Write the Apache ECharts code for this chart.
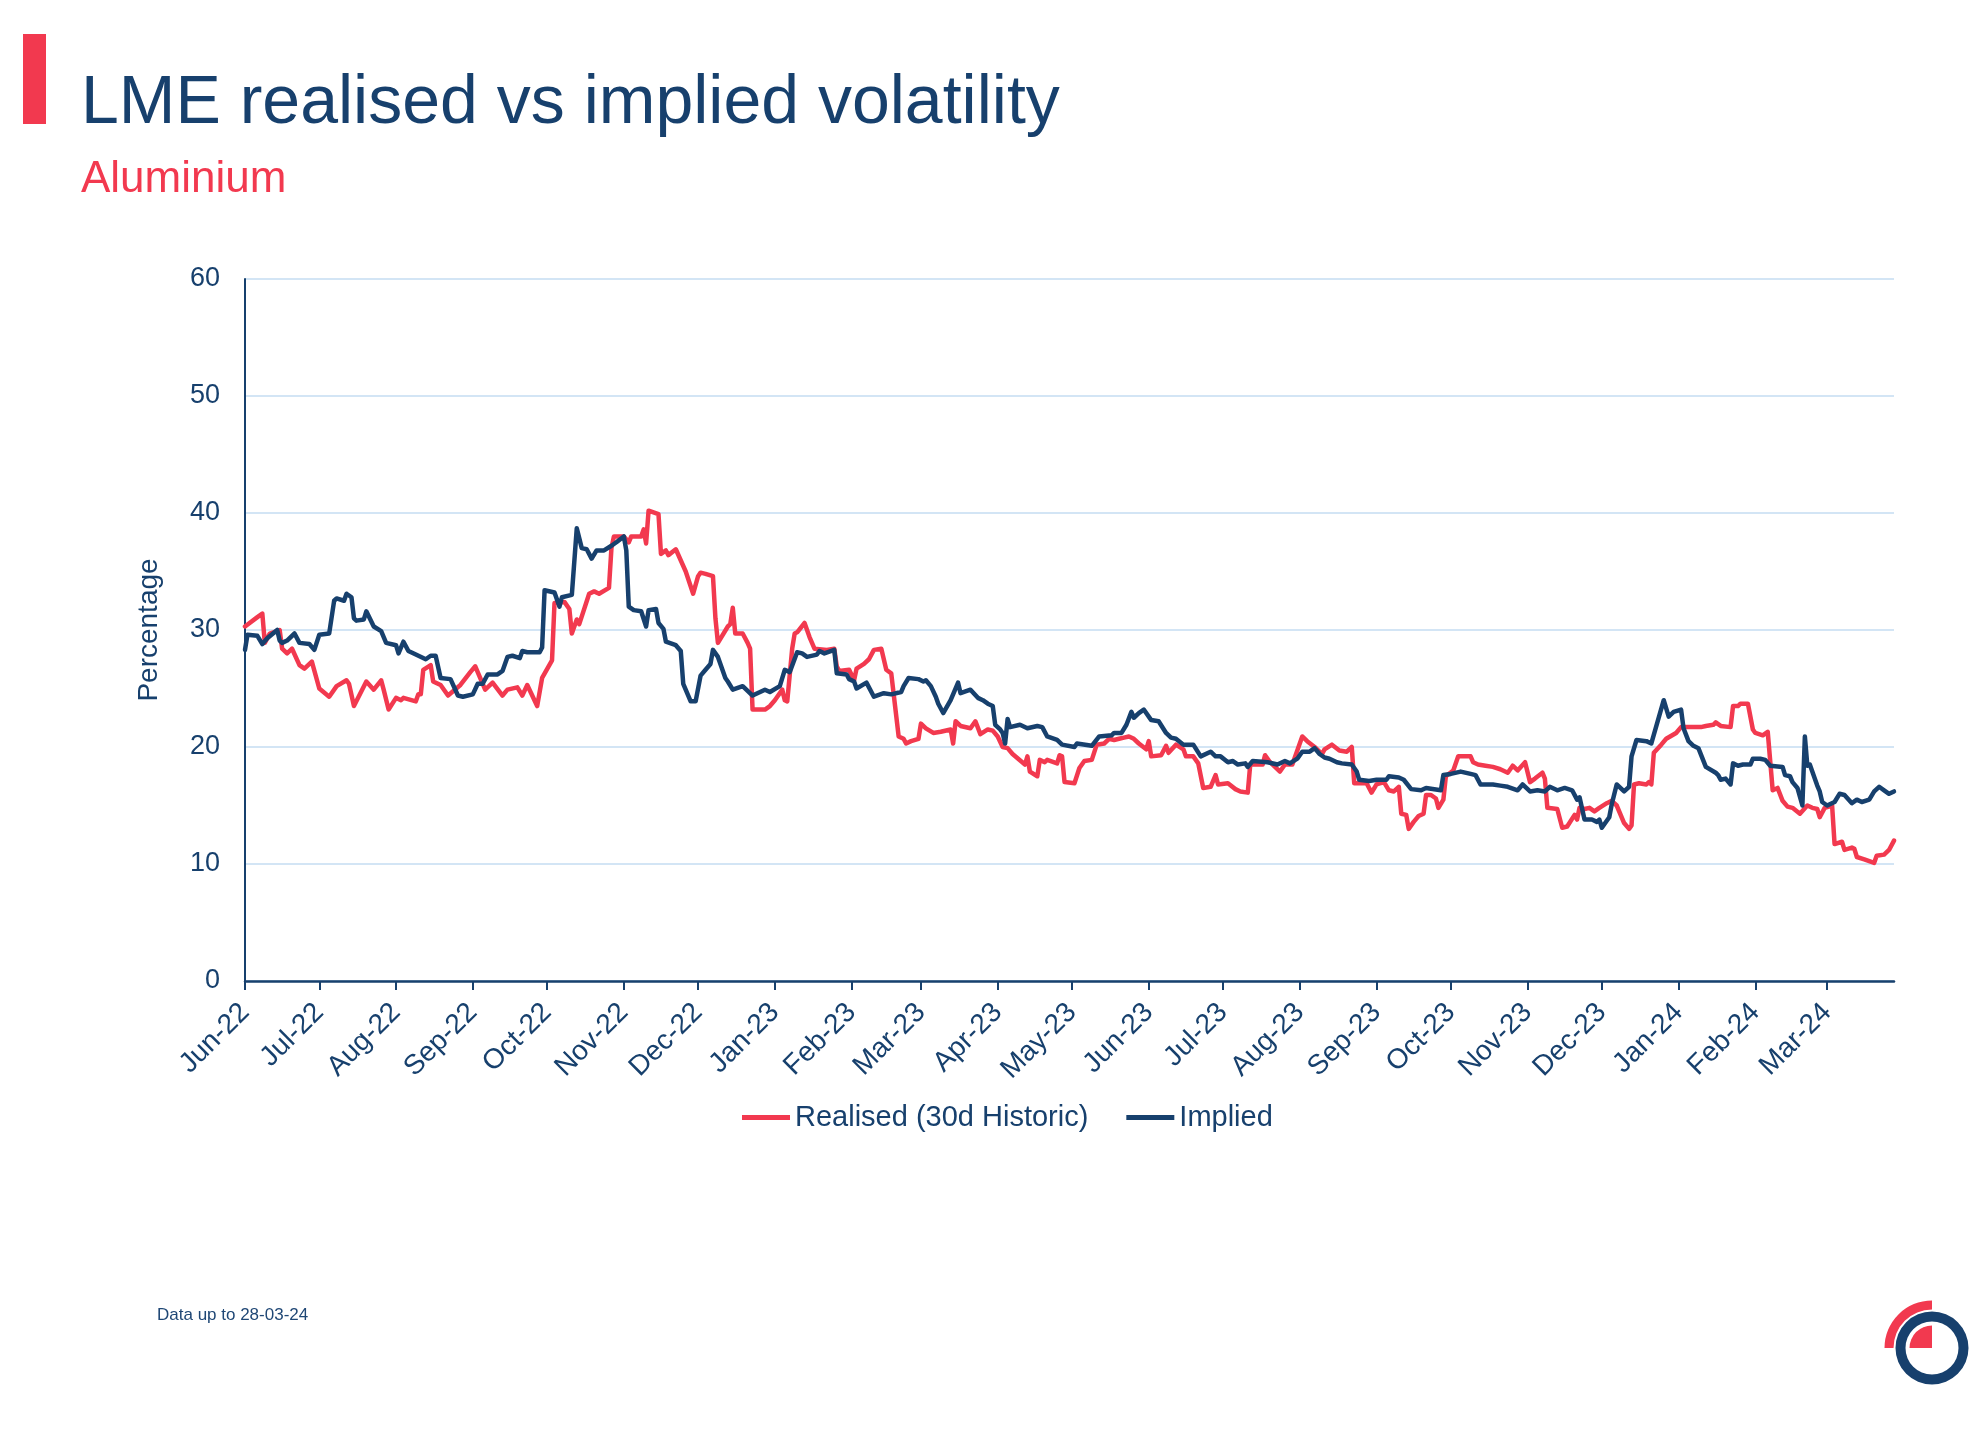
<!DOCTYPE html>
<html>
<head>
<meta charset="utf-8">
<script src="https://cdn.jsdelivr.net/npm/echarts@6/dist/echarts.min.js"></script>
<style>
html,body{margin:0;padding:0;background:#ffffff;}
#chart{width:1979px;height:1436px;}
</style>
</head>
<body>
<div id="chart"></div>
<script>
// ---------- data ----------
const realisedDates = [
 '2022-06-01','2022-06-06','2022-06-08','2022-06-09','2022-06-11','2022-06-15','2022-06-16','2022-06-18','2022-06-20','2022-06-23','2022-06-25','2022-06-28',
 '2022-07-01','2022-07-05','2022-07-08','2022-07-12','2022-07-13','2022-07-15','2022-07-20','2022-07-23','2022-07-26','2022-07-27','2022-07-29',
 '2022-08-01','2022-08-03','2022-08-04','2022-08-09','2022-08-10','2022-08-11','2022-08-12','2022-08-15','2022-08-16','2022-08-19','2022-08-22','2022-08-27','2022-08-31',
 '2022-09-02','2022-09-06','2022-09-09','2022-09-13','2022-09-15','2022-09-19','2022-09-21','2022-09-23','2022-09-27','2022-09-29',
 '2022-10-03','2022-10-04','2022-10-08','2022-10-10','2022-10-11','2022-10-13','2022-10-14','2022-10-18','2022-10-20','2022-10-22','2022-10-26','2022-10-27','2022-10-28',
 '2022-11-01','2022-11-03','2022-11-04','2022-11-08','2022-11-09','2022-11-10','2022-11-11','2022-11-15','2022-11-16','2022-11-18','2022-11-19','2022-11-22','2022-11-26','2022-11-29',
 '2022-12-01','2022-12-02','2022-12-04','2022-12-07','2022-12-08','2022-12-09','2022-12-13','2022-12-14','2022-12-15','2022-12-16','2022-12-19','2022-12-21','2022-12-22','2022-12-23','2022-12-28','2022-12-30',
 '2023-01-01','2023-01-04','2023-01-05','2023-01-06','2023-01-08','2023-01-09','2023-01-10','2023-01-13','2023-01-15','2023-01-17','2023-01-22','2023-01-25','2023-01-26','2023-01-27','2023-01-31',
 '2023-02-02','2023-02-03','2023-02-06','2023-02-08','2023-02-10','2023-02-13','2023-02-15','2023-02-17','2023-02-20','2023-02-22','2023-02-23','2023-02-25','2023-02-28',
 '2023-03-01','2023-03-03','2023-03-06','2023-03-09','2023-03-13','2023-03-14','2023-03-15','2023-03-17','2023-03-21','2023-03-23','2023-03-25','2023-03-28','2023-03-30',
 '2023-04-01','2023-04-03','2023-04-05','2023-04-07','2023-04-12','2023-04-13','2023-04-14','2023-04-17','2023-04-18','2023-04-20','2023-04-21','2023-04-25','2023-04-26','2023-04-27','2023-04-28',
 '2023-05-02','2023-05-04','2023-05-06','2023-05-09','2023-05-11','2023-05-14','2023-05-16','2023-05-18','2023-05-20','2023-05-22','2023-05-24','2023-05-26','2023-05-28','2023-05-31',
 '2023-06-01','2023-06-02','2023-06-06','2023-06-08','2023-06-09','2023-06-12','2023-06-15','2023-06-16','2023-06-19','2023-06-21','2023-06-23','2023-06-26','2023-06-28','2023-06-29',
 '2023-07-03','2023-07-06','2023-07-08','2023-07-11','2023-07-12','2023-07-17','2023-07-18','2023-07-20','2023-07-24','2023-07-26','2023-07-29','2023-07-31',
 '2023-08-02','2023-08-04','2023-08-07','2023-08-10','2023-08-11','2023-08-14','2023-08-17','2023-08-20','2023-08-22','2023-08-23','2023-08-26','2023-08-28','2023-08-30',
 '2023-09-01','2023-09-04','2023-09-06','2023-09-08','2023-09-10','2023-09-11','2023-09-13','2023-09-14','2023-09-16','2023-09-18','2023-09-20','2023-09-21','2023-09-23','2023-09-25','2023-09-26','2023-09-28','2023-09-29',
 '2023-10-02','2023-10-04','2023-10-07','2023-10-09','2023-10-10','2023-10-12','2023-10-15','2023-10-18','2023-10-21','2023-10-24','2023-10-26','2023-10-28','2023-10-31',
 '2023-11-02','2023-11-04','2023-11-07','2023-11-08','2023-11-09','2023-11-13','2023-11-15','2023-11-17','2023-11-20','2023-11-21','2023-11-22','2023-11-24','2023-11-26','2023-11-28','2023-11-30',
 '2023-12-03','2023-12-05','2023-12-07','2023-12-10','2023-12-12','2023-12-13','2023-12-14','2023-12-16','2023-12-19','2023-12-20','2023-12-21','2023-12-22','2023-12-25','2023-12-27','2023-12-31',
 '2024-01-02','2024-01-04','2024-01-08','2024-01-10','2024-01-12','2024-01-15','2024-01-16','2024-01-18','2024-01-22','2024-01-23','2024-01-25','2024-01-26','2024-01-29','2024-01-31',
 '2024-02-01','2024-02-04','2024-02-06','2024-02-08','2024-02-10','2024-02-12','2024-02-14','2024-02-16','2024-02-19','2024-02-22','2024-02-24','2024-02-26','2024-02-27','2024-02-29',
 '2024-03-03','2024-03-04','2024-03-07','2024-03-08','2024-03-11','2024-03-12','2024-03-13','2024-03-16','2024-03-20','2024-03-21','2024-03-24','2024-03-26','2024-03-28'
];
const realisedValues = [
 30.3,31.1,31.4,28.9,29.7,30.0,28.4,28.0,28.4,27.0,26.7,27.3,
 25.0,24.3,25.2,25.7,25.4,23.5,25.6,24.9,25.7,24.9,23.2,
 24.2,24.0,24.2,23.9,24.5,24.5,26.6,27.0,25.6,25.3,24.4,25.3,26.4,
 26.9,24.9,25.5,24.4,24.9,25.1,24.4,25.3,23.5,25.9,
 27.4,32.3,32.4,31.8,29.7,30.9,30.5,33.1,33.3,33.1,33.6,37.0,38.0,
 38.0,37.5,38.0,38.0,38.6,37.4,40.2,39.9,36.5,36.8,36.4,36.9,35.0,33.1,
 34.6,34.9,34.8,34.6,31.0,28.9,30.3,30.5,31.9,29.7,29.7,28.9,28.4,23.2,23.2,23.5,
 24.0,24.9,24.0,23.9,28.4,29.7,29.8,30.6,29.4,28.4,28.3,28.4,26.9,26.5,26.6,
 25.7,26.7,27.1,27.5,28.3,28.4,26.6,26.3,20.9,20.7,20.3,20.5,20.7,
 22.0,21.6,21.2,21.3,21.5,20.3,22.2,21.8,21.6,22.2,21.1,21.5,21.4,
 20.9,20.0,19.9,19.4,18.5,19.2,17.9,17.5,18.9,18.7,18.9,18.6,19.3,19.2,17.0,
 16.9,18.2,18.8,18.9,20.2,20.3,20.7,20.6,20.7,20.8,20.9,20.7,20.3,19.8,
 20.5,19.2,19.3,20.1,19.5,20.2,19.8,19.2,19.2,18.6,16.5,16.6,17.6,16.8,
 16.9,16.4,16.2,16.1,18.5,18.5,19.3,18.7,17.9,18.5,18.5,19.7,
 20.9,20.5,20.0,19.4,19.8,20.2,19.7,19.6,20.0,16.9,16.9,16.9,16.1,
 16.8,17.0,16.3,16.2,16.6,14.3,14.2,13.0,13.6,14.1,14.3,15.9,15.9,15.6,14.8,15.5,17.5,
 18.0,19.2,19.2,19.2,18.7,18.5,18.4,18.3,18.1,17.8,18.4,18.0,18.7,
 17.0,17.3,17.8,17.3,14.8,14.7,13.1,13.2,14.2,13.8,14.8,14.7,14.8,14.5,14.8,
 15.2,15.4,15.0,13.5,13.0,13.3,16.8,16.9,16.8,17.0,16.8,19.5,20.2,20.7,21.2,
 21.7,21.7,21.7,21.7,21.8,21.9,22.1,21.8,21.7,23.5,23.5,23.7,23.7,21.5,
 21.2,21.0,21.3,16.3,16.5,15.4,14.9,14.8,14.3,15.0,14.8,14.7,14.0,14.8,
 15.0,11.7,11.9,11.2,11.4,11.3,10.6,10.4,10.1,10.7,10.8,11.2,12.0
];

const impliedDates = [
 '2022-06-01','2022-06-02','2022-06-06','2022-06-08','2022-06-10','2022-06-14','2022-06-15','2022-06-16','2022-06-18','2022-06-21','2022-06-23','2022-06-27','2022-06-29',
 '2022-07-01','2022-07-05','2022-07-07','2022-07-08','2022-07-11','2022-07-12','2022-07-14','2022-07-15','2022-07-16','2022-07-19','2022-07-20','2022-07-23','2022-07-26','2022-07-28',
 '2022-08-01','2022-08-02','2022-08-04','2022-08-06','2022-08-09','2022-08-13','2022-08-15','2022-08-17','2022-08-19','2022-08-23','2022-08-26','2022-08-28',
 '2022-09-01','2022-09-03','2022-09-05','2022-09-07','2022-09-11','2022-09-13','2022-09-15','2022-09-17','2022-09-20','2022-09-21','2022-09-23','2022-09-28','2022-09-29','2022-09-30',
 '2022-10-04','2022-10-06','2022-10-07','2022-10-11','2022-10-13','2022-10-15','2022-10-17','2022-10-19','2022-10-21','2022-10-24','2022-10-27','2022-10-29',
 '2022-11-01','2022-11-02','2022-11-03','2022-11-05','2022-11-08','2022-11-10','2022-11-11','2022-11-14','2022-11-15','2022-11-17','2022-11-18','2022-11-22','2022-11-24','2022-11-25','2022-11-28','2022-11-30',
 '2022-12-02','2022-12-04','2022-12-06','2022-12-07','2022-12-09','2022-12-12','2022-12-13','2022-12-15','2022-12-19','2022-12-23','2022-12-28','2022-12-30',
 '2023-01-03','2023-01-05','2023-01-07','2023-01-10','2023-01-12','2023-01-14','2023-01-18','2023-01-19','2023-01-21','2023-01-25','2023-01-26','2023-01-30','2023-01-31',
 '2023-02-02','2023-02-03','2023-02-07','2023-02-10','2023-02-14','2023-02-17','2023-02-21','2023-02-22','2023-02-24','2023-02-28',
 '2023-03-02','2023-03-03','2023-03-05','2023-03-07','2023-03-08','2023-03-10','2023-03-13','2023-03-16','2023-03-17','2023-03-21','2023-03-24','2023-03-26','2023-03-28','2023-03-30','2023-03-31',
 '2023-04-02','2023-04-03','2023-04-04','2023-04-05','2023-04-06','2023-04-10','2023-04-13','2023-04-17','2023-04-19','2023-04-21','2023-04-25','2023-04-27',
 '2023-05-02','2023-05-03','2023-05-09','2023-05-12','2023-05-17','2023-05-18','2023-05-21','2023-05-23','2023-05-25','2023-05-26','2023-05-28','2023-05-30',
 '2023-06-02','2023-06-05','2023-06-08','2023-06-10','2023-06-12','2023-06-15','2023-06-19','2023-06-22','2023-06-26','2023-06-28','2023-06-30',
 '2023-07-03','2023-07-05','2023-07-07','2023-07-10','2023-07-11','2023-07-13','2023-07-19','2023-07-23','2023-07-26','2023-07-28','2023-07-31',
 '2023-08-02','2023-08-05','2023-08-07','2023-08-09','2023-08-11','2023-08-13','2023-08-16','2023-08-18','2023-08-22','2023-08-24','2023-08-25','2023-08-29',
 '2023-09-01','2023-09-05','2023-09-06','2023-09-10','2023-09-12','2023-09-15','2023-09-19','2023-09-21','2023-09-27','2023-09-28',
 '2023-10-01','2023-10-05','2023-10-09','2023-10-11','2023-10-13','2023-10-16','2023-10-18','2023-10-21','2023-10-24','2023-10-28','2023-10-30',
 '2023-11-02','2023-11-05','2023-11-08','2023-11-10','2023-11-13','2023-11-16','2023-11-19','2023-11-21','2023-11-22','2023-11-24','2023-11-27','2023-11-29','2023-11-30',
 '2023-12-01','2023-12-04','2023-12-05','2023-12-07','2023-12-10','2023-12-12','2023-12-13','2023-12-15','2023-12-19','2023-12-21','2023-12-26','2023-12-28','2023-12-30',
 '2024-01-02','2024-01-03','2024-01-05','2024-01-07','2024-01-09','2024-01-12','2024-01-16','2024-01-17','2024-01-18','2024-01-20','2024-01-22','2024-01-23','2024-01-25','2024-01-27','2024-01-30','2024-01-31',
 '2024-02-03','2024-02-05','2024-02-07','2024-02-12','2024-02-13','2024-02-15','2024-02-16','2024-02-18','2024-02-20','2024-02-21','2024-02-22','2024-02-23','2024-02-26','2024-02-27','2024-02-28',
 '2024-03-01','2024-03-04','2024-03-06','2024-03-08','2024-03-11','2024-03-13','2024-03-15','2024-03-18','2024-03-20','2024-03-22','2024-03-24','2024-03-26','2024-03-28'
];
const impliedValues = [
 28.3,29.6,29.5,28.8,29.3,30.0,29.1,28.9,29.1,29.7,28.9,28.8,28.3,
 29.6,29.7,32.5,32.7,32.5,33.1,32.8,31.0,30.8,30.9,31.6,30.3,29.9,28.9,
 28.7,28.0,29.0,28.2,27.9,27.5,27.8,27.8,25.9,25.8,24.4,24.3,
 24.5,25.4,25.4,26.2,26.2,26.5,27.7,27.8,27.6,28.2,28.1,28.1,28.5,33.4,
 33.2,32.0,32.8,33.0,38.7,37.0,36.9,36.1,36.8,36.8,37.2,37.5,
 38.0,36.8,32.0,31.7,31.6,30.3,31.7,31.8,30.6,30.1,29.0,28.7,28.2,25.4,23.9,23.9,
 26.1,26.6,27.1,28.3,27.7,25.9,25.6,24.9,25.2,24.4,24.9,24.7,
 25.2,26.6,26.4,28.1,28.0,27.7,27.9,28.2,28.0,28.3,26.3,26.2,25.8,
 25.6,25.0,25.5,24.3,24.6,24.5,24.7,25.2,25.9,25.8,
 25.6,25.7,25.2,24.3,23.7,22.9,24.0,25.5,24.6,24.9,24.2,24.0,23.7,23.5,21.9,
 21.5,21.2,20.3,22.4,21.7,21.9,21.6,21.8,21.7,20.9,20.6,20.2,
 20.0,20.3,20.1,20.9,21.0,21.2,21.2,21.9,23.0,22.5,22.9,23.2,
 22.3,22.2,21.2,20.8,20.7,20.2,20.2,19.2,19.6,19.2,19.2,
 18.7,18.8,18.5,18.6,18.3,18.8,18.7,18.5,18.8,18.6,19.0,
 19.6,19.6,19.9,19.4,19.1,19.0,18.7,18.6,18.5,17.9,17.2,17.1,
 17.2,17.2,17.5,17.4,17.2,16.4,16.3,16.5,16.3,17.6,
 17.7,17.9,17.7,17.6,16.8,16.8,16.8,16.7,16.6,16.3,16.8,
 16.2,16.3,16.2,16.6,16.3,16.5,16.3,15.5,15.7,13.8,13.8,13.6,13.8,
 13.1,14.0,15.1,16.8,16.2,16.6,19.2,20.6,20.5,20.3,24.0,22.6,23.0,
 23.2,21.6,20.5,20.1,19.9,18.3,17.8,17.6,17.2,17.3,16.8,18.6,18.4,18.5,18.5,19.0,
 19.0,18.9,18.4,18.3,17.6,17.5,17.0,16.5,15.0,20.9,18.4,18.5,16.7,16.2,15.3,
 15.0,15.3,16.0,15.9,15.2,15.5,15.3,15.5,16.2,16.6,16.3,16.0,16.2
];

const seriesNames = ['Realised (30d Historic)', 'Implied'];
const yTicks = [0, 10, 20, 30, 40, 50, 60];
const monthNames = ['Jan','Feb','Mar','Apr','May','Jun','Jul','Aug','Sep','Oct','Nov','Dec'];
const axisStart = [2022, 5, 1];   // 1 Jun 2022
const axisEnd = [2024, 2, 28];    // 28 Mar 2024

// ---------- build daily category axis ----------
const categories = [];
for (let t = Date.UTC(...axisStart); t <= Date.UTC(...axisEnd); t += 86400000) {
  categories.push(new Date(t).toISOString().slice(0, 10));
}
const catIndex = {};
categories.forEach((c, i) => { catIndex[c] = i; });
const toPairs = (dates, vals) => dates.map((d, i) => [catIndex[d], vals[i]]);
const isMonthStart = (i, v) => typeof v === 'string' ? v.slice(8, 10) === '01' : categories[i].slice(8, 10) === '01';

const RED = '#F2394F';
const NAVY = '#17406D';
const GRID = '#D3E5F5';
const FONT = '"Liberation Sans", Arial, Helvetica, sans-serif';

const chart = echarts.init(document.getElementById('chart'), null, { renderer: 'canvas' });
chart.setOption({
  backgroundColor: '#ffffff',
  animation: false,
  textStyle: { fontFamily: FONT },
  grid: { left: 245, right: 85, top: 279, bottom: 455, containLabel: false },
  legend: {
    data: seriesNames,
    left: 737, top: 1098,
    icon: 'rect', itemWidth: 48, itemHeight: 5, itemGap: 38,
    selectedMode: false,
    textStyle: { fontSize: 29, color: NAVY, fontFamily: FONT }
  },
  xAxis: {
    type: 'category',
    data: categories,
    boundaryGap: false,
    axisLine: { show: true, lineStyle: { color: NAVY, width: 2.5 } },
    axisTick: { show: true, interval: isMonthStart, length: 9, lineStyle: { color: NAVY, width: 2 } },
    axisLabel: {
      interval: isMonthStart,
      rotate: 45,
      margin: 27,
      fontSize: 28,
      color: NAVY,
      fontFamily: FONT,
      formatter: v => monthNames[parseInt(v.slice(5, 7), 10) - 1] + '-' + v.slice(2, 4)
    },
    splitLine: { show: false }
  },
  yAxis: {
    type: 'value',
    min: yTicks[0], max: yTicks[yTicks.length - 1], interval: 10,
    name: 'Percentage',
    nameLocation: 'middle',
    nameGap: 82,
    nameTextStyle: { fontSize: 28, color: NAVY, fontFamily: FONT },
    axisLine: { show: true, lineStyle: { color: NAVY, width: 2 } },
    axisTick: { show: false },
    axisLabel: { margin: 25, fontSize: 27, color: NAVY, fontFamily: FONT },
    splitLine: { show: true, lineStyle: { color: GRID, width: 2 } }
  },
  series: [
    {
      name: seriesNames[0], type: 'line', data: toPairs(realisedDates, realisedValues),
      showSymbol: false, symbol: 'none', color: RED,
      lineStyle: { color: RED, width: 4.5, join: 'round', cap: 'round' }, z: 2
    },
    {
      name: seriesNames[1], type: 'line', data: toPairs(impliedDates, impliedValues),
      showSymbol: false, symbol: 'none', color: NAVY,
      lineStyle: { color: NAVY, width: 4.5, join: 'round', cap: 'round' }, z: 3
    }
  ],
  graphic: [
    { type: 'rect', shape: { x: 23, y: 34, width: 23, height: 90 }, style: { fill: RED } },
    { type: 'text', x: 81, y: 104, style: { text: 'LME realised vs implied volatility', font: '68px ' + FONT, fill: NAVY, verticalAlign: 'middle', align: 'left' } },
    { type: 'text', x: 81, y: 180, style: { text: 'Aluminium', font: '44px ' + FONT, fill: RED, verticalAlign: 'middle', align: 'left' } },
    { type: 'text', x: 157, y: 1315, style: { text: 'Data up to 28-03-24', font: '17px ' + FONT, fill: '#1F4775', verticalAlign: 'middle', align: 'left' } },
    { type: 'sector', shape: { cx: 1932, cy: 1348, r: 47.5, r0: 38.5, startAngle: Math.PI, endAngle: Math.PI * 1.5, clockwise: true }, style: { fill: RED } },
    { type: 'sector', shape: { cx: 1932, cy: 1348, r: 22.5, r0: 0, startAngle: Math.PI, endAngle: Math.PI * 1.5, clockwise: true }, style: { fill: RED } },
    { type: 'ring', shape: { cx: 1932, cy: 1348, r: 36.5, r0: 26.5 }, style: { fill: NAVY } }
  ]
});
</script>
</body>
</html>
